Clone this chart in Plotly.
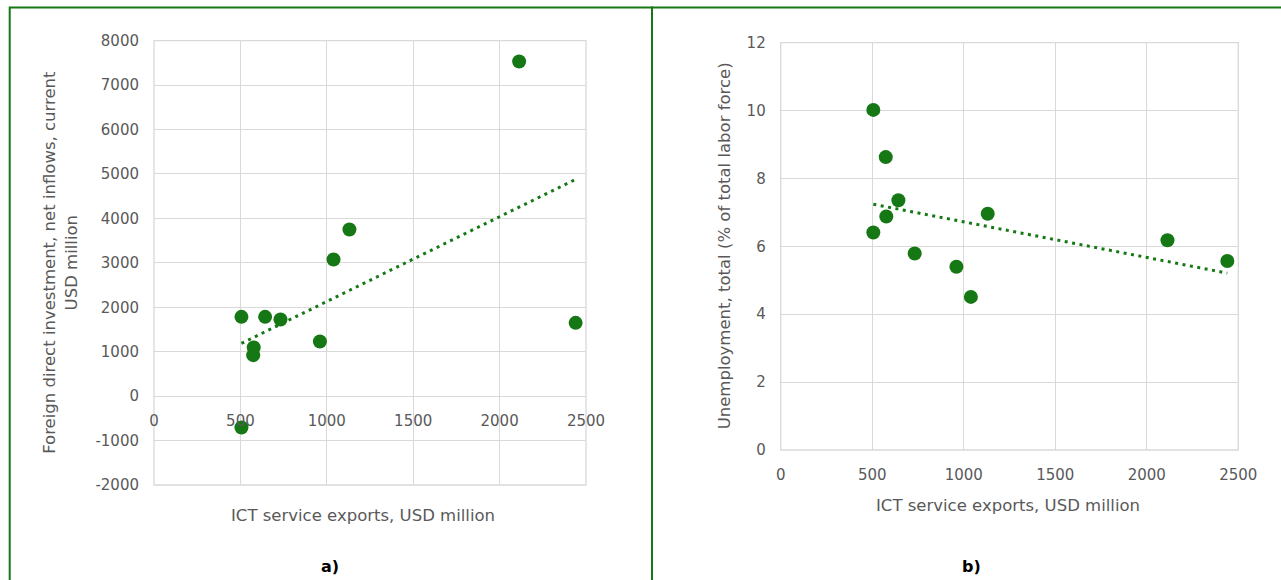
import numpy as np
import plotly.graph_objects as go

# ICT service exports (USD million) for each country, shared by both panels
ict_exports = [506, 506, 574, 577, 643, 732, 960, 1039, 1131, 2113, 2440]
# FDI net inflows (current USD million)
fdi_inflows = [-705, 1785, 923, 1096, 1785, 1726, 1231, 3077, 3752, 7533, 1650]
# Unemployment, total (% of total labor force)
unemployment = [10.02, 6.41, 8.63, 6.88, 7.36, 5.79, 5.40, 4.51, 6.96, 6.18, 5.57]

x_ticks = [0, 500, 1000, 1500, 2000, 2500]
fdi_ticks = [-2000, -1000, 0, 1000, 2000, 3000, 4000, 5000, 6000, 7000, 8000]
unemp_ticks = [0, 2, 4, 6, 8, 10, 12]

x_title = "ICT service exports, USD million"
fdi_title = "Foreign direct investment, net inflows, current<br>USD million"
unemp_title = "Unemployment, total (% of total labor force)"

GREEN = "#157815"
GRID = "#d9d9d9"
TICK_FONT = dict(family="DejaVu Sans, Verdana, sans-serif", size=15, color="#595959")
TITLE_FONT = dict(family="DejaVu Sans, Verdana, sans-serif", size=16.5, color="#595959")

W, H = 1281, 580


def trend(xs, ys):
    slope, intercept = np.polyfit(xs, ys, 1)
    xt = np.array([min(xs), max(xs)], dtype=float)
    return xt, slope * xt + intercept


fig = go.Figure()

# panel a) scatter + linear trend
fig.add_trace(go.Scatter(x=ict_exports, y=fdi_inflows, mode="markers",
                         marker=dict(size=14, color=GREEN), xaxis="x", yaxis="y",
                         showlegend=False))
tx, ty = trend(ict_exports, fdi_inflows)
fig.add_trace(go.Scatter(x=tx, y=ty, mode="lines",
                         line=dict(color=GREEN, width=3, dash="3px,4.5px"),
                         xaxis="x", yaxis="y", showlegend=False))

# panel b) scatter + linear trend
fig.add_trace(go.Scatter(x=ict_exports, y=unemployment, mode="markers",
                         marker=dict(size=14, color=GREEN), xaxis="x2", yaxis="y2",
                         showlegend=False))
tx2, ty2 = trend(ict_exports, unemployment)
fig.add_trace(go.Scatter(x=tx2, y=ty2, mode="lines",
                         line=dict(color=GREEN, width=3, dash="3px,4.5px"),
                         xaxis="x2", yaxis="y2", showlegend=False))

# plot-area domains (paper fractions)
xa_dom = [154 / W, 586 / W]
ya_dom = [1 - 485 / H, 1 - 40.7 / H]
xb_dom = [780.7 / W, 1238.3 / W]
yb_dom = [1 - 450 / H, 1 - 42.7 / H]

fdi_range = [fdi_ticks[0], fdi_ticks[-1]]
# horizontal axis of panel a) crosses the vertical axis at zero
zero_pos = ya_dom[0] + (0 - fdi_range[0]) / (fdi_range[1] - fdi_range[0]) * (ya_dom[1] - ya_dom[0])

common_x = dict(range=[x_ticks[0], x_ticks[-1]], tickvals=x_ticks,
                ticktext=[str(v) for v in x_ticks], showgrid=True,
                gridcolor=GRID, gridwidth=1.3, zeroline=False, showline=False,
                tickfont=TICK_FONT, ticks="", ticklabelstandoff=14, fixedrange=True,
                automargin=False)
common_y = dict(showgrid=True, gridcolor=GRID, gridwidth=1.3, zeroline=False,
                showline=False, tickfont=TICK_FONT, ticks="", ticklabelstandoff=14,
                fixedrange=True, automargin=False)

fig.update_layout(
    width=W, height=H, autosize=False,
    margin=dict(l=0, r=0, t=0, b=0, pad=0),
    paper_bgcolor="white", plot_bgcolor="white",
    xaxis=dict(domain=xa_dom, anchor="free", position=zero_pos, **common_x),
    yaxis=dict(domain=ya_dom, anchor="x", range=fdi_range, tickvals=fdi_ticks,
               ticktext=[str(v) for v in fdi_ticks], **common_y),
    xaxis2=dict(domain=xb_dom, anchor="y2", **common_x),
    yaxis2=dict(domain=yb_dom, anchor="x2", range=[unemp_ticks[0], unemp_ticks[-1]],
                tickvals=unemp_ticks, ticktext=[str(v) for v in unemp_ticks],
                **common_y),
)

shapes = []
# plot-area frames
for xr, yr in (("x domain", "y domain"), ("x2 domain", "y2 domain")):
    shapes.append(dict(type="rect", xref=xr, yref=yr, x0=0, x1=1, y0=0, y1=1,
                       line=dict(color=GRID, width=1.3), layer="below"))
# panel borders
shapes.append(dict(type="rect", xref="paper", yref="paper",
                   x0=9.7 / W, x1=652 / W, y0=-0.1, y1=1 - 7.5 / H,
                   line=dict(color=GREEN, width=2)))
shapes.append(dict(type="rect", xref="paper", yref="paper",
                   x0=652 / W, x1=1.1, y0=-0.1, y1=1 - 7.5 / H,
                   line=dict(color=GREEN, width=2)))
fig.update_layout(shapes=shapes)

annotations = [
    dict(text=fdi_title, x=60 / W, y=(ya_dom[0] + ya_dom[1]) / 2, textangle=-90),
    dict(text=unemp_title, x=724 / W, y=(yb_dom[0] + yb_dom[1]) / 2, textangle=-90),
    dict(text=x_title, x=363 / W, y=1 - 515 / H),
    dict(text=x_title, x=1008 / W, y=1 - 505 / H),
]
for a in annotations:
    fig.add_annotation(xref="paper", yref="paper", xanchor="center", yanchor="middle",
                       showarrow=False, font=TITLE_FONT, **a)

for label, xpos in (("a)", 330), ("b)", 972)):
    fig.add_annotation(text=f"<b>{label}</b>", xref="paper", yref="paper",
                       x=xpos / W, y=1 - 566 / H, xanchor="center", yanchor="middle",
                       showarrow=False,
                       font=dict(family="DejaVu Sans, Verdana, sans-serif", size=16,
                                 color="#000000"))

fig.write_html("out.html")
